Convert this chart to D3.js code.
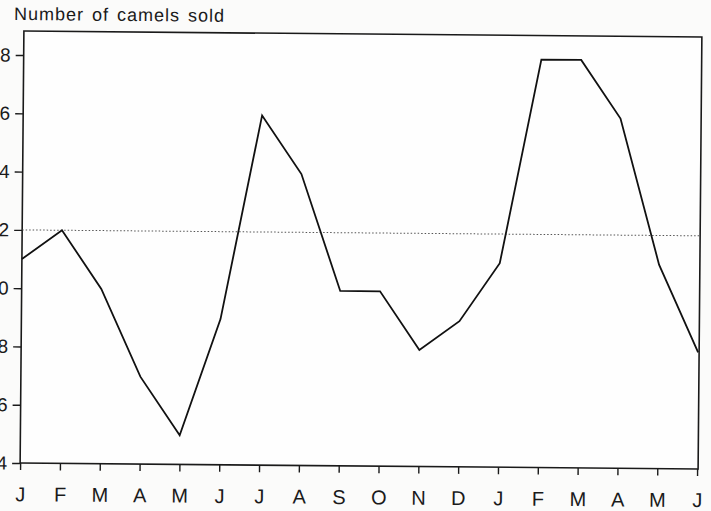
<!DOCTYPE html>
<html>
<head>
<meta charset="utf-8">
<script src="https://cdn.jsdelivr.net/npm/d3@7"></script>
<style>
  html, body { margin: 0; padding: 0; background: #fbfbfa; }
  svg { display: block; }
  text { font-family: "Liberation Sans", Arial, sans-serif; fill: #1a1a1a; }
</style>
</head>
<body>
<svg id="chart" width="711" height="511"></svg>
<script>
// Monthly camel sales over eighteen months
const months = ["J","F","M","A","M","J","J","A","S","O","N","D","J","F","M","A","M","J"];
const sold = [11, 12, 10, 7, 5, 9, 16, 14, 10, 10, 8, 9, 11, 18, 18, 16, 11, 8];
const yTicks = [4, 6, 8, 10, 12, 14, 16, 18];
const meanLevel = 12;
const title = "Number of camels sold";

const svg = d3.select("#chart");
const plotLeft = 22, plotRight = 699, plotTop = 34, plotBottom = 466;

// slight tilt of the whole page
const g = svg.append("g").attr("transform", "rotate(0.5, 360, 250)");

const x = d3.scalePoint().domain(d3.range(months.length)).range([plotLeft, plotRight]);
const y = d3.scaleLinear().domain([4, 18]).range([plotBottom, 58]);

// frame
g.append("rect")
  .attr("x", plotLeft).attr("y", plotTop)
  .attr("width", plotRight + 1 - plotLeft).attr("height", plotBottom - plotTop)
  .attr("fill", "#fefefe").attr("stroke", "#1a1a1a").attr("stroke-width", 1.6);

// reference level
g.append("line")
  .attr("x1", plotLeft).attr("x2", plotRight + 1)
  .attr("y1", y(meanLevel)).attr("y2", y(meanLevel))
  .attr("stroke", "#555").attr("stroke-width", 1)
  .attr("stroke-dasharray", "1.5,2");

// axes
const yAxis = d3.axisLeft(y).tickValues(yTicks).tickSize(8).tickPadding(5);
const ya = g.append("g").attr("transform", `translate(${plotLeft},0)`).call(yAxis);
ya.attr("font-size", 19);
ya.select(".domain").remove();
ya.selectAll("line").attr("stroke", "#1a1a1a").attr("stroke-width", 1.4);
ya.selectAll("text").style("fill", "#1a1a1a");

const xAxis = d3.axisBottom(x).tickFormat(i => months[i]).tickSize(7).tickPadding(17);
const xa = g.append("g").attr("transform", `translate(0,${plotBottom})`).call(xAxis);
xa.attr("font-size", 20);
xa.select(".domain").remove();
xa.selectAll("line").attr("stroke", "#1a1a1a").attr("stroke-width", 1.4);
xa.selectAll("text").style("fill", "#1a1a1a");

// sales line
const line = d3.line().x((d, i) => x(i)).y(d => y(d));
g.append("path")
  .datum(sold)
  .attr("d", line)
  .attr("fill", "none")
  .attr("stroke", "#111")
  .attr("stroke-width", 1.8)
  .attr("stroke-linejoin", "miter");

// title
g.append("text")
  .attr("x", 12).attr("y", 23)
  .attr("font-size", 18)
  .attr("letter-spacing", 1)
  .attr("word-spacing", 2)
  .text(title);
</script>
</body>
</html>
